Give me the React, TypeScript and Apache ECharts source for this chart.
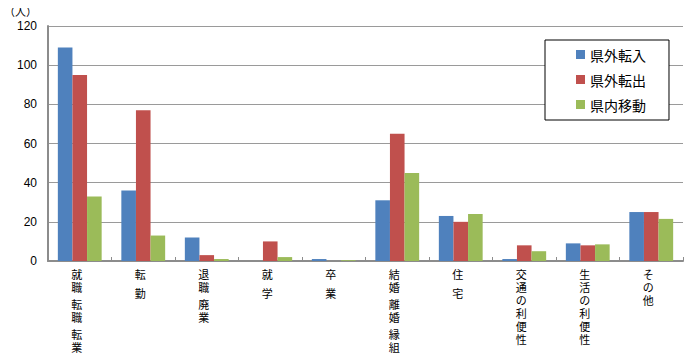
import React, { useEffect, useRef } from "react";
import * as echarts from "echarts";

const categories = [
  "就職・転職・転業",
  "転勤",
  "退職・廃業",
  "就学",
  "卒業",
  "結婚・離婚・縁組",
  "住宅",
  "交通の利便性",
  "生活の利便性",
  "その他",
];
const seriesNames = ["県外転入", "県外転出", "県内移動"];
const inValues = [109, 36, 12, 0, 1, 31, 23, 1, 9, 25];
const outValues = [95, 77, 3, 10, 0, 65, 20, 8, 8, 25];
const moveValues = [33, 13, 1, 2, 0.4, 45, 24, 5, 8.5, 21.5];
const yTicks = { min: 0, max: 120, interval: 20 };
const colors = ["#4F81BD", "#C0504D", "#9BBB59"];

const FONT = "'Noto Sans CJK JP', 'Noto Sans', sans-serif";

function verticalLabel(name: string): string {
  const groups = name.includes("・")
    ? name.split("・")
    : name.length === 2
    ? name.split("")
    : [name];
  const gap = name.includes("・") ? "{g| }" : "{h| }";
  return groups
    .map((g) => g.split("").map((c) => `{c|${c}}`).join("\n"))
    .join("\n" + gap + "\n");
}

export default function App() {
  const ref = useRef<HTMLDivElement>(null);
  useEffect(() => {
    if (!ref.current) return;
    const chart = echarts.init(ref.current, undefined, { renderer: "svg" });
    const data = [inValues, outValues, moveValues];
    chart.setOption({
      animation: false,
      textStyle: { fontFamily: FONT },
      grid: { left: 48, right: 9, top: 26, bottom: 103, containLabel: false },
      graphic: [
        {
          type: "text",
          left: 4,
          top: 5,
          style: { text: "（人）", fontSize: 11, fill: "#000", fontFamily: FONT },
        },
      ],
      legend: {
        orient: "vertical",
        left: 545,
        top: 40,
        itemWidth: 9,
        itemHeight: 9,
        itemGap: 8,
        padding: [6, 23, 7, 31],
        borderColor: "#000",
        borderWidth: 1,
        backgroundColor: "#fff",
        icon: "rect",
        textStyle: { fontSize: 14, color: "#000", fontFamily: FONT, lineHeight: 17 },
        data: seriesNames,
      },
      xAxis: {
        type: "category",
        data: categories,
        axisLine: { show: true, lineStyle: { color: "#8c8c8c", width: 2 } },
        axisTick: { show: true, inside: true, length: 4, lineStyle: { color: "#8c8c8c" } },
        axisLabel: {
          interval: 0,
          margin: 6,
          color: "#000",
          formatter: (v: string) => verticalLabel(v),
          rich: {
            c: { fontSize: 11, lineHeight: 13, fontFamily: FONT, color: "#000", padding: [0, 6, 0, 0] },
            g: { fontSize: 4, lineHeight: 4 },
            h: { fontSize: 6, lineHeight: 6 },
          },
        },
      },
      yAxis: {
        type: "value",
        min: yTicks.min,
        max: yTicks.max,
        interval: yTicks.interval,
        axisLine: { show: true, lineStyle: { color: "#8c8c8c", width: 2 } },
        axisTick: { show: false },
        axisLabel: { fontSize: 12, color: "#000", margin: 11, fontFamily: "'Liberation Sans', Arial, sans-serif" },
        splitLine: { lineStyle: { color: "#9a9a9a", width: 1 } },
      },
      series: seriesNames.map((name, i) => ({
        name,
        type: "bar",
        data: data[i],
        barGap: "0%",
        barCategoryGap: "31%",
        itemStyle: { color: colors[i] },
      })),
    });
    return () => chart.dispose();
  }, []);
  return <div ref={ref} style={{ width: 692, height: 364, margin: -8 }} />;
}
